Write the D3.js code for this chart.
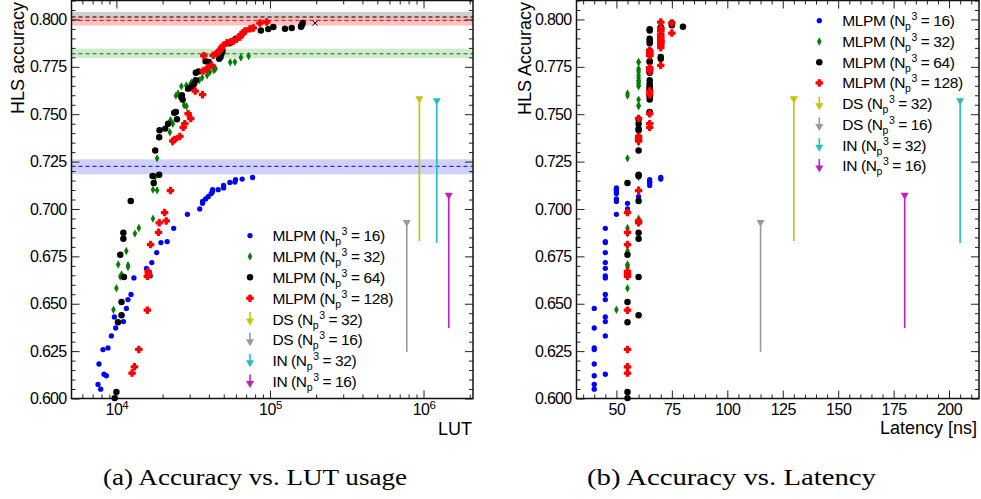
<!DOCTYPE html>
<html>
<head>
<meta charset="utf-8">
<script src="https://cdn.jsdelivr.net/npm/d3@7"></script>
<style>
  body { margin: 0; background: #fff; }
  text { font-family: "Liberation Sans", Arial, Helvetica, sans-serif; fill: #000; }
</style>
</head>
<body>
<script>
// ---- data ----
// MLPM (Np^3 = 16)
var blueLut = [77100, 65900, 59700, 59100, 54800, 49900, 49900, 46000, 42300, 42100, 41400, 39600, 38100, 36400, 36400, 34900, 29000, 23600, 21400, 19500, 18300, 17000, 16600, 15700, 13000, 12450, 11900, 11620, 11110, 9700, 9890, 9270, 8810, 8180, 7700, 8600, 8300, 7590, 7900];
var blueLat = [70, 70, 65, 65, 65, 65, 50, 50, 50, 50, 50, 60, 50, 50, 55, 55, 50, 45, 45, 45, 45, 45, 45, 45, 45, 45, 45, 40, 45, 45, 40, 45, 40, 40, 40, 40, 45, 40, 40];
var blueAcc = [0.7166, 0.7158, 0.7155, 0.7142, 0.7140, 0.7124, 0.7111, 0.7102, 0.7102, 0.7090, 0.7081, 0.7065, 0.7053, 0.7040, 0.7030, 0.7000, 0.6972, 0.6898, 0.6828, 0.6823, 0.6770, 0.6717, 0.6647, 0.6687, 0.6636, 0.6549, 0.6522, 0.6475, 0.6406, 0.6430, 0.6372, 0.6330, 0.6267, 0.6258, 0.6182, 0.6120, 0.6128, 0.6074, 0.6049];

// MLPM (Np^3 = 32)
var greenLut = [72600, 64700, 59100, 55100, 44200, 43100, 40600, 39000, 36200, 34600, 32400, 31000, 30400, 28500, 26500, 25200, 27000, 27600, 28600, 24400, 22500, 23300, 22300, 23200, 18400, 17900, 18400, 17300, 17300, 14000, 13200, 11600, 10270, 11900, 11900, 10600, 10800, 10000, 9570];
var greenLat = [65, 65, 60, 60, 60, 60, 60, 60, 60, 60, 60, 60, 60, 60, 60, 55, 60, 60, 60, 55, 60, 60, 60, 60, 55, 60, 60, 60, 60, 55, 55, 55, 55, 55, 55, 55, 55, 55, 50];
var greenAcc = [0.7807, 0.7799, 0.7775, 0.7774, 0.7740, 0.7732, 0.7723, 0.7705, 0.7693, 0.7679, 0.7677, 0.7668, 0.7661, 0.7652, 0.7647, 0.7609, 0.7577, 0.7547, 0.7542, 0.7598, 0.7468, 0.7450, 0.7405, 0.7353, 0.7267, 0.7169, 0.7099, 0.7102, 0.6949, 0.6900, 0.6870, 0.6778, 0.6707, 0.6703, 0.6694, 0.6643, 0.6654, 0.6582, 0.6468];

// MLPM (Np^3 = 64)
var blackLut = [163400, 161000, 159300, 138600, 125300, 105200, 97500, 87300, 60000, 57400, 54800, 49100, 48400, 47700, 46700, 40000, 38100, 34300, 32900, 32900, 32100, 31300, 30100, 29300, 26700, 26500, 27000, 24400, 23800, 24800, 21700, 20800, 19100, 19000, 17900, 19000, 17200, 17500, 12400, 11100, 11100, 10600, 11200, 10800, 10800, 10240, 10000, 9750];
var blackLat = [75, 75, 80, 70, 70, 70, 65, 65, 65, 65, 65, 65, 65, 70, 70, 65, 65, 65, 65, 65, 65, 65, 65, 65, 65, 65, 65, 65, 65, 60, 60, 60, 60, 60, 60, 60, 60, 55, 60, 60, 60, 55, 60, 55, 60, 55, 55, 55];
var blackAcc = [0.7981, 0.7969, 0.7962, 0.7955, 0.7951, 0.7960, 0.7949, 0.7942, 0.7898, 0.7887, 0.7874, 0.7833, 0.7820, 0.7802, 0.7793, 0.7775, 0.7779, 0.7726, 0.7719, 0.7679, 0.7661, 0.7647, 0.7640, 0.7635, 0.7600, 0.7591, 0.7577, 0.7512, 0.7508, 0.7473, 0.7450, 0.7424, 0.7415, 0.7378, 0.7308, 0.7181, 0.7174, 0.7137, 0.7042, 0.6874, 0.6843, 0.6758, 0.6641, 0.6509, 0.6439, 0.6402, 0.6034, 0.6002];

// MLPM (Np^3 = 128)
var redLut = [95100, 86100, 77800, 74100, 68700, 66900, 64700, 63700, 60600, 57700, 55400, 52500, 49600, 48400, 47200, 46000, 44900, 42700, 37100, 41700, 39600, 38700, 36700, 32600, 36400, 29300, 30500, 27900, 27200, 25900, 23900, 23300, 22500, 20600, 21100, 19000, 18800, 16700, 16100, 16200, 15900, 15900, 14000, 13100, 12650];
var redLat = [70, 75, 70, 70, 70, 75, 70, 70, 70, 70, 70, 70, 70, 70, 65, 65, 65, 65, 65, 70, 65, 65, 65, 65, 65, 65, 60, 65, 65, 60, 60, 60, 60, 55, 60, 60, 55, 55, 55, 55, 55, 55, 55, 55, 55];
var redAcc = [0.7986, 0.7981, 0.7955, 0.7951, 0.7939, 0.7928, 0.7920, 0.7907, 0.7895, 0.7886, 0.7881, 0.7877, 0.7863, 0.7851, 0.7837, 0.7828, 0.7820, 0.7811, 0.7809, 0.7758, 0.7746, 0.7737, 0.7728, 0.7622, 0.7603, 0.7503, 0.7477, 0.7450, 0.7431, 0.7383, 0.7366, 0.7359, 0.7097, 0.6981, 0.6937, 0.6927, 0.6877, 0.6812, 0.6671, 0.6657, 0.6645, 0.6466, 0.6259, 0.6167, 0.6134];

// single extra point (x marker) in the LUT plot
var extraLut = [196700];
var extraAcc = [0.7981];

// DS / IN ranges
var limitName = ["DS", "DS", "IN", "IN"];
var limitNp = ["32", "16", "32", "16"];
var limitLut = [940000, 778000, 1220000, 1460000];
var limitLat = [130, 115, 205, 180];
var limitTop = [0.7576, 0.6924, 0.7566, 0.7067];
var limitBottom = [0.6831, 0.6246, 0.6821, 0.6372];

// reference accuracy bands in the LUT plot
var refMid = [0.8013, 0.7995, 0.7819, 0.7225];
var refLo = [0.7990, 0.7968, 0.7796, 0.7183];
var refHi = [0.8040, 0.8018, 0.7846, 0.7262];

var mlpmNp = ["16", "32", "64", "128"];

// ticks
var yMajor = [0.6, 0.625, 0.65, 0.675, 0.7, 0.725, 0.75, 0.775, 0.8];
var lutMajor = [1e4, 1e5, 1e6];
var latMajor = [50, 75, 100, 125, 150, 175, 200];

// ---- styles ----
var seriesColor = ["#0000ff", "#008000", "#000000", "#ff0000"];
var limitColor = ["#c4c400", "#999999", "#22c0c0", "#c020c0"];
var bandColor = ["#c4c4c4", "#f6b4b4", "#c6e4c6", "#c6c6f6"];
var lineColor = ["#000000", "#ff0000", "#008000", "#0000ff"];

var series = [
  { lut: blueLut, lat: blueLat, acc: blueAcc, shape: "dot" },
  { lut: greenLut, lat: greenLat, acc: greenAcc, shape: "diamond" },
  { lut: blackLut, lat: blackLat, acc: blackAcc, shape: "circle" },
  { lut: redLut, lat: redLat, acc: redAcc, shape: "cross" }
];

function markerPath(shape) {
  if (shape == "dot") return d3.symbol(d3.symbolCircle, 22)();
  if (shape == "circle") return d3.symbol(d3.symbolCircle, 33)();
  if (shape == "cross") return d3.symbol(d3.symbolCross, 22)();
  return "M0,-4.2L2.3,0L0,4.2L-2.3,0Z"; // thin diamond
}
var downTri = "M-4,-3.5L4,-3.5L0,3.5Z";

var svg = d3.select("body").append("svg")
  .attr("width", 981)
  .attr("height", 499);

var y = d3.scaleLinear().domain([0.6, 0.81]).range([398.5, 0.5]);
var yMinor = d3.range(0.6, 0.8101, 0.005).filter(function (v) {
  return Math.abs(v / 0.025 - Math.round(v / 0.025)) > 1e-6;
});

var xLut = d3.scaleLog().domain([5100, 2.1e6]).range([71.5, 473]);
var xLat = d3.scaleLinear().domain([32, 213.5]).range([576.5, 979]);

var lutMinor = [];
[3, 4, 5, 6].forEach(function (d) {
  for (var k = 2; k <= 9; k++) {
    var v = k * Math.pow(10, d);
    if (v > 5100 && v < 2.1e6) lutMinor.push(v);
  }
});
var latMinor = d3.range(35, 213, 5).filter(function (v) { return v % 25 != 0; });

function drawAxes(g, x, xMajor, xMinor, xFormat) {
  var x0 = x.range()[0], x1 = x.range()[1];
  var y0 = y.range()[1], y1 = y.range()[0];

  function clean(a) {
    a.select(".domain").remove();
    a.selectAll("line").attr("stroke", "#222");
  }
  // left
  g.append("g").attr("transform", "translate(" + x0 + ",0)")
    .call(d3.axisLeft(y).tickValues(yMajor).tickSize(-8).tickPadding(5)
      .tickFormat(d3.format(".3f")))
    .call(clean)
    .selectAll("text").attr("font-size", "16px").attr("font-family", null)
    .attr("letter-spacing", "-0.7px");
  g.append("g").attr("transform", "translate(" + x0 + ",0)")
    .call(d3.axisLeft(y).tickValues(yMinor).tickSize(-4).tickFormat(""))
    .call(clean);
  // right
  g.append("g").attr("transform", "translate(" + x1 + ",0)")
    .call(d3.axisRight(y).tickValues(yMajor).tickSize(-8).tickFormat(""))
    .call(clean);
  g.append("g").attr("transform", "translate(" + x1 + ",0)")
    .call(d3.axisRight(y).tickValues(yMinor).tickSize(-4).tickFormat(""))
    .call(clean);
  // bottom
  var bot = g.append("g").attr("transform", "translate(0," + y1 + ")")
    .call(d3.axisBottom(x).tickValues(xMajor).tickSize(-8).tickPadding(5)
      .tickFormat(xFormat))
    .call(clean);
  bot.selectAll("text").attr("font-size", "16px").attr("font-family", null)
    .attr("letter-spacing", "-0.5px");
  g.append("g").attr("transform", "translate(0," + y1 + ")")
    .call(d3.axisBottom(x).tickValues(xMinor).tickSize(-4).tickFormat(""))
    .call(clean);
  // top
  g.append("g").attr("transform", "translate(0," + y0 + ")")
    .call(d3.axisTop(x).tickValues(xMajor).tickSize(-8).tickFormat(""))
    .call(clean);
  g.append("g").attr("transform", "translate(0," + y0 + ")")
    .call(d3.axisTop(x).tickValues(xMinor).tickSize(-4).tickFormat(""))
    .call(clean);
  return bot;
}

function drawFrame(g, x) {
  var x0 = x.range()[0], x1 = x.range()[1];
  g.append("rect")
    .attr("x", x0).attr("y", y.range()[1])
    .attr("width", x1 - x0).attr("height", y.range()[0] - y.range()[1])
    .attr("fill", "none").attr("stroke", "#111").attr("stroke-width", 1.5);
}

function drawLimits(g, x, xs) {
  limitTop.forEach(function (t, i) {
    var px = x(xs[i]);
    g.append("line")
      .attr("x1", px).attr("x2", px)
      .attr("y1", y(t)).attr("y2", y(limitBottom[i]))
      .attr("stroke", limitColor[i]).attr("stroke-width", 1.6);
    g.append("path")
      .attr("d", downTri)
      .attr("transform", "translate(" + px + "," + y(t) + ")")
      .attr("fill", limitColor[i]);
  });
}

function drawSeries(g, x, key) {
  series.forEach(function (s, si) {
    var marks = g.append("g").selectAll("path")
      .data(s.acc)
      .enter().append("path")
      .attr("d", markerPath(s.shape))
      .attr("transform", function (d, i) {
        return "translate(" + x(s[key][i]) + "," + y(d) + ")";
      })
      .attr("fill", seriesColor[si]);
    if (s.shape == "cross") {
      marks.attr("stroke", seriesColor[si]).attr("stroke-width", 1.2)
        .attr("stroke-linejoin", "round");
    }
  });
}

function npLabel(t, name, n) {
  t.append("tspan").text(name + " (N");
  t.append("tspan").attr("font-size", "10.5px").attr("dy", 4).text("p");
  t.append("tspan").attr("font-size", "10.5px").attr("dy", -10).attr("dx", 1).text("3");
  t.append("tspan").attr("dy", 6).text(" = " + n + ")");
}

function drawLegend(g, mx, tx, top, step) {
  var rows = [];
  mlpmNp.forEach(function (n, i) { rows.push({ kind: "s", i: i, name: "MLPM", n: n }); });
  limitName.forEach(function (nm, i) { rows.push({ kind: "l", i: i, name: nm, n: limitNp[i] }); });
  rows.forEach(function (r, k) {
    var cy = top + k * step;
    if (r.kind == "s") {
      var m = g.append("path").attr("d", markerPath(series[r.i].shape))
        .attr("transform", "translate(" + mx + "," + cy + ")")
        .attr("fill", seriesColor[r.i]);
      if (series[r.i].shape == "cross") {
        m.attr("stroke", seriesColor[r.i]).attr("stroke-width", 1.2)
          .attr("stroke-linejoin", "round");
      }
    } else {
      g.append("line").attr("x1", mx).attr("x2", mx)
        .attr("y1", cy - 7).attr("y2", cy + 1)
        .attr("stroke", limitColor[r.i]).attr("stroke-width", 1.6);
      g.append("path").attr("d", downTri)
        .attr("transform", "translate(" + mx + "," + (cy + 3) + ")")
        .attr("fill", limitColor[r.i]);
    }
    var t = g.append("text").attr("x", tx).attr("y", cy + 5.5)
      .attr("font-size", "15.5px").attr("letter-spacing", "-0.4px");
    npLabel(t, r.name, r.n);
  });
}

// ================= panel (a): accuracy vs LUT =================
var ga = svg.append("g");

// bands + dashed reference lines
refMid.forEach(function (m, i) {
  ga.append("rect")
    .attr("x", xLut.range()[0]).attr("width", xLut.range()[1] - xLut.range()[0])
    .attr("y", y(refHi[i])).attr("height", y(refLo[i]) - y(refHi[i]))
    .attr("fill", bandColor[i]).attr("fill-opacity", 0.8);
});
refMid.forEach(function (m, i) {
  ga.append("line")
    .attr("x1", xLut.range()[0]).attr("x2", xLut.range()[1])
    .attr("y1", y(m)).attr("y2", y(m))
    .attr("stroke", lineColor[i]).attr("stroke-width", 1)
    .attr("stroke-dasharray", "4,3");
});

drawLimits(ga, xLut, limitLut);
drawSeries(ga, xLut, "lut");

ga.selectAll(".extra").data(extraAcc).enter().append("path")
  .attr("class", "extra")
  .attr("d", "M-2.5,-2.5L2.5,2.5M-2.5,2.5L2.5,-2.5")
  .attr("transform", function (d, i) { return "translate(" + xLut(extraLut[i]) + "," + y(d) + ")"; })
  .attr("stroke", "#000").attr("stroke-width", 1);

var botA = drawAxes(ga, xLut, lutMajor, lutMinor, function () { return ""; });
botA.selectAll(".tick text").each(function (d) {
  var t = d3.select(this);
  t.append("tspan").text("10");
  t.append("tspan").attr("font-size", "11.5px").attr("dy", "-0.55em").text(Math.round(Math.log10(d)));
});
drawFrame(ga, xLut);
drawLegend(ga, 250, 272.5, 235.6, 20.85);

ga.append("text")
  .attr("transform", "translate(24,2) rotate(-90)")
  .attr("text-anchor", "end").attr("font-size", "18px")
  .text("HLS accuracy");
ga.append("text")
  .attr("x", 472).attr("y", 435)
  .attr("text-anchor", "end").attr("font-size", "18px")
  .text("LUT");

// ================= panel (b): accuracy vs latency =================
var gb = svg.append("g");
drawLimits(gb, xLat, limitLat);
drawSeries(gb, xLat, "lat");
drawAxes(gb, xLat, latMajor, latMinor, d3.format("d"));
drawFrame(gb, xLat);
drawLegend(gb, 819.3, 842.3, 20.7, 20.75);

gb.append("text")
  .attr("transform", "translate(531,2) rotate(-90)")
  .attr("text-anchor", "end").attr("font-size", "18px")
  .text("HLS Accuracy");
gb.append("text")
  .attr("x", 977).attr("y", 434)
  .attr("text-anchor", "end").attr("font-size", "18px")
  .text("Latency [ns]");

// ================= captions =================
svg.append("text")
  .attr("x", 255).attr("y", 485)
  .attr("text-anchor", "middle")
  .style("font-family", "'Liberation Serif', 'DejaVu Serif', serif")
  .attr("font-size", "24px")
  .attr("textLength", 304).attr("lengthAdjust", "spacingAndGlyphs")
  .text("(a) Accuracy vs. LUT usage");
svg.append("text")
  .attr("x", 731.5).attr("y", 485)
  .attr("text-anchor", "middle")
  .style("font-family", "'Liberation Serif', 'DejaVu Serif', serif")
  .attr("font-size", "24px")
  .attr("textLength", 289).attr("lengthAdjust", "spacingAndGlyphs")
  .text("(b) Accuracy vs. Latency");
</script>
</body>
</html>
